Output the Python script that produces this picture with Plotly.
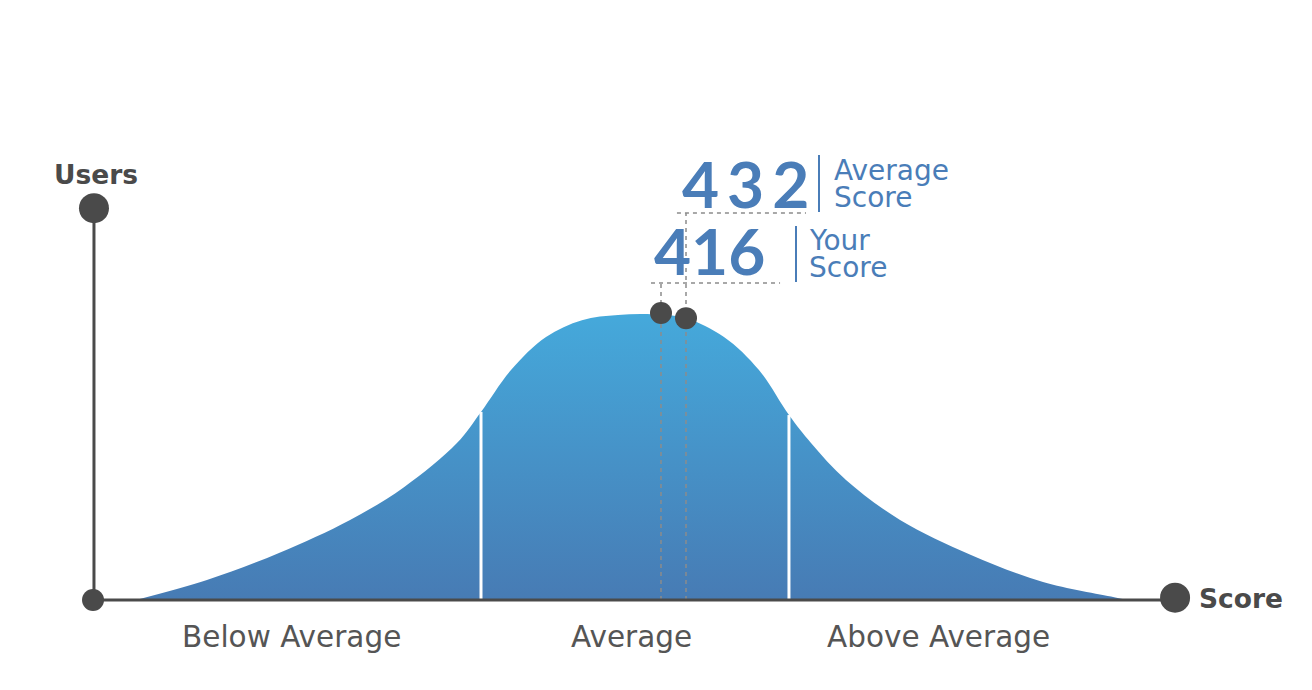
import plotly.graph_objects as go

# ---- data ----
curve_score = [80.0, 125.4, 171.5, 217.0, 251.5, 285.4, 300.8, 320.0, 342.4, 365.4,
               388.5, 411.5, 432.0, 456.3, 478.7, 497.9, 512.0, 534.4, 569.0, 614.4,
               660.5, 706.0, 715.5]
curve_users = [0, 7.0, 16.5, 28.1, 39.6, 55.1, 66.0, 80.7, 92.3, 98.2,
               100, 100.2, 98.9, 92.3, 80.7, 64.9, 55.1, 42.1, 28.1, 15.8,
               6.3, 1.0, 0]

divider_scores = [300.8, 497.9]
divider_users = [66.0, 64.9]

categories = ["Below Average", "Average", "Above Average"]
category_centers = [179.8, 396.8, 593.9]

your_score = 416
average_score = 432
score_dot_users = [100.7, 98.9]          # curve height at your score / average
your_label_users = 111.2                  # height of the "416" guide line
avg_label_users = 135.8                   # height of the "432" guide line

axis_origin = (52.5, 0)
axis_x_end = 745
axis_y_end = 137.5

# ---- layout helpers (pixel geometry of the 1312x690 canvas) ----
W, H = 1312, 690
PX_PER_SCORE = 1.5625
PX_PER_USER = 2.85
BASE_PX_X, BASE_SCORE = 686, 432
BASE_PX_Y = 600
x0 = BASE_SCORE - BASE_PX_X / PX_PER_SCORE
x1 = x0 + W / PX_PER_SCORE
y1 = BASE_PX_Y / PX_PER_USER
y0 = -(H - BASE_PX_Y) / PX_PER_USER

def paper(px, py):
    return px / W, 1 - py / H

DARK = "#4a4a4a"
BLUE = "#4a7db8"
GREY_TXT = "#555555"
DASH = "#8c8c8c"
SANS = "DejaVu Sans"
NUM = "Lato"

fig = go.Figure()

# bell curve with vertical gradient
fig.add_trace(go.Scatter(
    x=curve_score, y=curve_users, mode="lines",
    line=dict(color="rgba(0,0,0,0)", width=0, shape="spline", smoothing=1.0),
    fill="tozeroy",
    fillgradient=dict(type="vertical",
                      colorscale=[[0, "#477bb4"], [1, "#45a9db"]]),
    hoverinfo="skip", showlegend=False))

# white dividers
for s, u in zip(divider_scores, divider_users):
    fig.add_trace(go.Scatter(x=[s, s], y=[0, u], mode="lines",
                             line=dict(color="white", width=3),
                             hoverinfo="skip", showlegend=False))

# dashed guides
dash_line = dict(color=DASH, width=1.5, dash="4px,4px")
fig.add_trace(go.Scatter(x=[your_score, your_score], y=[0, your_label_users], mode="lines",
                         line=dash_line, hoverinfo="skip", showlegend=False))
fig.add_trace(go.Scatter(x=[average_score, average_score], y=[0, avg_label_users], mode="lines",
                         line=dash_line, hoverinfo="skip", showlegend=False))
fig.add_trace(go.Scatter(x=[409.6, 492.2], y=[your_label_users] * 2, mode="lines",
                         line=dash_line, hoverinfo="skip", showlegend=False))
fig.add_trace(go.Scatter(x=[426.2, 508.8], y=[avg_label_users] * 2, mode="lines",
                         line=dash_line, hoverinfo="skip", showlegend=False))

# axes lines
fig.add_trace(go.Scatter(x=[axis_origin[0], axis_x_end], y=[0, 0], mode="lines",
                         line=dict(color=DARK, width=3), hoverinfo="skip", showlegend=False))
fig.add_trace(go.Scatter(x=[axis_origin[0] + 0.6, axis_origin[0] + 0.6], y=[0, axis_y_end],
                         mode="lines", line=dict(color=DARK, width=3),
                         hoverinfo="skip", showlegend=False))
# axis dots
fig.add_trace(go.Scatter(x=[axis_origin[0], axis_x_end, axis_origin[0] + 0.6],
                         y=[0, 0.8, axis_y_end], mode="markers",
                         marker=dict(color=DARK, size=[22, 30, 30], opacity=1, line=dict(width=0)),
                         hoverinfo="skip", showlegend=False))
# score dots
fig.add_trace(go.Scatter(x=[your_score, average_score], y=score_dot_users, mode="markers",
                         marker=dict(color=DARK, size=22, opacity=1, line=dict(width=0)),
                         hoverinfo="skip", showlegend=False))

ann = []

def text_at(px, py, text, size, color, family=SANS, xanchor="center"):
    xx, yy = paper(px, py)
    ann.append(dict(x=xx, y=yy, text=text, showarrow=False, xref="paper", yref="paper",
                    xanchor=xanchor, yanchor="middle",
                    font=dict(family=family, size=size, color=color)))

# axis titles
text_at(96, 174, "<b>Users</b>", 26.5, DARK)
text_at(1197, 598, "<b>Score</b>", 26.5, DARK, xanchor="left")
# category labels
for c, s in zip(categories, category_centers):
    ann.append(dict(x=s, y=-13, text=c, showarrow=False, xref="x", yref="y",
                    xanchor="center", yanchor="middle",
                    font=dict(family=SANS, size=29.5, color=GREY_TXT)))
# score numbers
text_at(745, 184, "<b>" + "\u2009".join(str(average_score)) + "</b>", 64, BLUE, family=NUM)
text_at(709, 250, "<b>" + str(your_score) + "</b>", 64, BLUE, family=NUM)
text_at(832, 170, "Average", 28, BLUE, xanchor="left")
text_at(832, 197, "Score", 28, BLUE, xanchor="left")
text_at(807, 240, "Your", 28, BLUE, xanchor="left")
text_at(807, 267, "Score", 28, BLUE, xanchor="left")

shapes = []
for bx, by0, by1 in [(819, 155, 212), (796, 226, 282)]:
    ax0, ay0 = paper(bx, by0)
    _, ay1 = paper(bx, by1)
    shapes.append(dict(type="line", xref="paper", yref="paper", x0=ax0, x1=ax0, y0=ay0, y1=ay1,
                       line=dict(color=BLUE, width=2)))

fig.update_layout(
    width=W, height=H, margin=dict(l=0, r=0, t=0, b=0),
    paper_bgcolor="white", plot_bgcolor="white",
    xaxis=dict(range=[x0, x1], visible=False, fixedrange=True),
    yaxis=dict(range=[y0, y1], visible=False, fixedrange=True),
    annotations=ann, shapes=shapes, showlegend=False,
)

fig.write_html("out.html", config={"displayModeBar": False},
               post_script="document.body.style.margin='0px';")
